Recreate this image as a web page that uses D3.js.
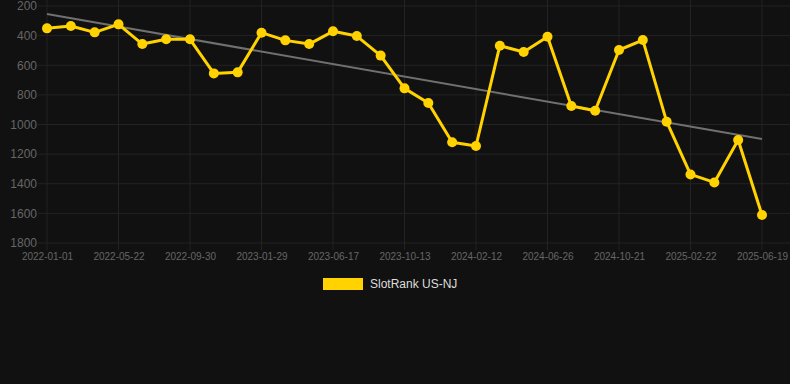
<!DOCTYPE html>
<html>
<head>
<meta charset="utf-8">
<script src="https://cdn.jsdelivr.net/npm/d3@7"></script>
<style>
  html, body { margin: 0; padding: 0; background: #111111; }
  svg { display: block; font-family: "Liberation Sans", Arial, sans-serif; }
</style>
</head>
<body>
<div id="container"></div>
<script>
/* CONSTANTS AND GLOBALS */
const width = 790,
  height = 384,
  margin = { top: 6, bottom: 141, left: 47, right: 28 }

/* DATA */
// one point roughly every 47 days, labels shown on every 3rd one
const dates = [
  "2022-01-01", "2022-02-17", "2022-04-05", "2022-05-22", "2022-07-04", "2022-08-17",
  "2022-09-30", "2022-11-08", "2022-12-20", "2023-01-29", "2023-03-17", "2023-05-01",
  "2023-06-17", "2023-07-29", "2023-09-01", "2023-10-13", "2023-11-24", "2024-01-02",
  "2024-02-12", "2024-03-28", "2024-05-12", "2024-06-26", "2024-08-03", "2024-09-12",
  "2024-10-21", "2024-12-02", "2025-01-12", "2025-02-22", "2025-04-03", "2025-05-11",
  "2025-06-19"
]
const rank = [
  351, 335, 378, 324, 457, 425, 425, 655, 648, 380,
  432, 457, 371, 403, 535, 756, 855, 1120, 1145, 468,
  511, 407, 875, 907, 497, 430, 981, 1337, 1391, 1105,
  1611
]
const yTicks = [200, 400, 600, 800, 1000, 1200, 1400, 1600, 1800]
const seriesName = "SlotRank US-NJ"

const data = dates.map((d, i) => ({ date: d, i: i, rank: rank[i] }))

// + SCALES
const xScale = d3.scalePoint()
  .domain(dates)
  .range([margin.left, width - margin.right])

const yScale = d3.scaleLinear()
  .domain([200, 1800])
  .range([margin.top, height - margin.bottom])

// CREATE SVG ELEMENT
const svg = d3.select("#container")
  .append("svg")
  .attr("width", width)
  .attr("height", height)

svg.append("rect")
  .attr("width", width)
  .attr("height", height)
  .attr("fill", "#111111")

// GRID
const xLabelDates = dates.filter((d, i) => i % 3 === 0)

svg.append("g")
  .selectAll("line")
  .data(yTicks)
  .join("line")
  .attr("x1", 38)
  .attr("x2", width)
  .attr("y1", d => yScale(d))
  .attr("y2", d => yScale(d))
  .attr("stroke", "#232323")
  .attr("stroke-width", 1)

svg.append("g")
  .selectAll("line")
  .data(xLabelDates)
  .join("line")
  .attr("x1", d => xScale(d))
  .attr("x2", d => xScale(d))
  .attr("y1", 0)
  .attr("y2", height - margin.bottom + 7)
  .attr("stroke", "#232323")
  .attr("stroke-width", 1)

// BUILD AXES (labels only)
const yAxis = d3.axisLeft(yScale)
  .tickValues(yTicks)
  .tickFormat(d3.format("d"))
  .tickSize(0)
  .tickPadding(0)

svg.append("g")
  .attr("transform", `translate(37, 0)`)
  .call(yAxis)
  .call(g => g.select(".domain").remove())
  .call(g => g.selectAll("text")
    .attr("fill", "#666666")
    .style("font-size", "12px")
    .style("font-family", "'Liberation Sans', Arial, sans-serif"))

const xAxis = d3.axisBottom(xScale)
  .tickValues(xLabelDates)
  .tickSize(0)
  .tickPadding(10)

svg.append("g")
  .attr("transform", `translate(0, ${height - margin.bottom})`)
  .call(xAxis)
  .call(g => g.select(".domain").remove())
  .call(g => g.selectAll("text")
    .attr("fill", "#666666")
    .style("font-size", "10px")
    .style("font-family", "'Liberation Sans', Arial, sans-serif"))

// TREND LINE (least squares over the series)
const n = data.length
const meanX = d3.mean(data, d => d.i)
const meanY = d3.mean(data, d => d.rank)
const slope = d3.sum(data, d => (d.i - meanX) * (d.rank - meanY)) /
  d3.sum(data, d => (d.i - meanX) ** 2)
const intercept = meanY - slope * meanX
const trend = [data[0], data[n - 1]].map(d => ({ date: d.date, rank: intercept + slope * d.i }))

const lineGen = d3.line()
  .x(d => xScale(d.date))
  .y(d => yScale(d.rank))

svg.append("path")
  .attr("d", lineGen(trend))
  .attr("fill", "none")
  .attr("stroke", "#707070")
  .attr("stroke-width", 2)

// DRAW LINE
svg.append("path")
  .attr("class", "line")
  .attr("d", lineGen(data))
  .attr("fill", "none")
  .attr("stroke", "#ffd200")
  .attr("stroke-width", 3)
  .attr("stroke-linejoin", "round")

svg.selectAll(".dot")
  .data(data)
  .join("circle")
  .attr("class", "dot")
  .attr("cx", d => xScale(d.date))
  .attr("cy", d => yScale(d.rank))
  .attr("r", 5)
  .attr("fill", "#ffd200")

// LEGEND
const legend = svg.append("g")
  .attr("transform", `translate(323, 278)`)

legend.append("rect")
  .attr("width", 40)
  .attr("height", 12)
  .attr("fill", "#ffd200")

legend.append("text")
  .attr("x", 47)
  .attr("y", 10)
  .attr("fill", "#dddddd")
  .style("font-size", "12px")
  .text(seriesName)
</script>
</body>
</html>
